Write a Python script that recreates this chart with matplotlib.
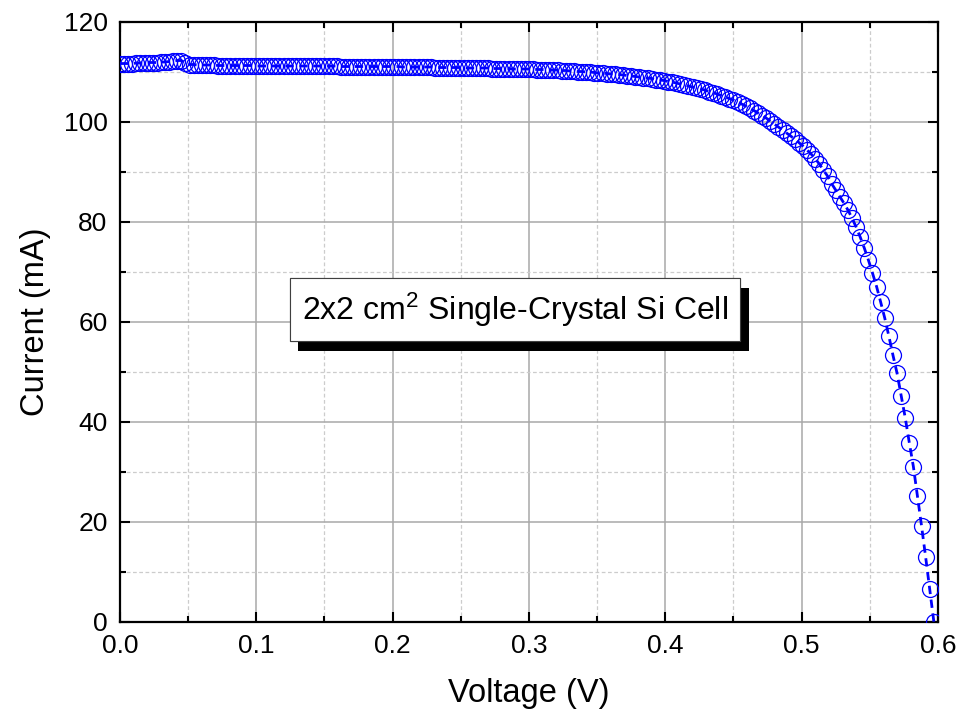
import numpy as np
import matplotlib.pyplot as plt
import matplotlib.patheffects as pe
from matplotlib.ticker import MultipleLocator

plt.rcParams['font.family'] = ['Liberation Sans', 'DejaVu Sans']
plt.rcParams['mathtext.fontset'] = 'custom'
plt.rcParams['mathtext.rm'] = 'Liberation Sans'
plt.rcParams['mathtext.it'] = 'Liberation Sans'

# Voltage sweep (V)
voltage = [
    0.000, 0.003, 0.006, 0.009, 0.012, 0.015, 0.018, 0.021, 0.024, 0.027,
    0.030, 0.033, 0.036, 0.039, 0.042, 0.045, 0.048, 0.051, 0.054, 0.057,
    0.060, 0.063, 0.066, 0.069, 0.072, 0.075, 0.078, 0.081, 0.084, 0.087,
    0.090, 0.093, 0.096, 0.099, 0.102, 0.105, 0.108, 0.111, 0.114, 0.117,
    0.120, 0.123, 0.126, 0.129, 0.132, 0.135, 0.138, 0.141, 0.144, 0.147,
    0.150, 0.153, 0.156, 0.159, 0.162, 0.165, 0.168, 0.171, 0.174, 0.177,
    0.180, 0.183, 0.186, 0.189, 0.192, 0.195, 0.198, 0.201, 0.204, 0.207,
    0.210, 0.213, 0.216, 0.219, 0.222, 0.225, 0.228, 0.231, 0.234, 0.237,
    0.240, 0.243, 0.246, 0.249, 0.252, 0.255, 0.258, 0.261, 0.264, 0.267,
    0.270, 0.273, 0.276, 0.279, 0.282, 0.285, 0.288, 0.291, 0.294, 0.297,
    0.300, 0.303, 0.306, 0.309, 0.312, 0.315, 0.318, 0.321, 0.324, 0.327,
    0.330, 0.333, 0.336, 0.339, 0.342, 0.345, 0.348, 0.351, 0.354, 0.357,
    0.360, 0.363, 0.366, 0.369, 0.372, 0.375, 0.378, 0.381, 0.384, 0.387,
    0.390, 0.393, 0.396, 0.399, 0.402, 0.405, 0.408, 0.411, 0.414, 0.417,
    0.420, 0.423, 0.426, 0.429, 0.432, 0.435, 0.438, 0.441, 0.444, 0.447,
    0.450, 0.453, 0.456, 0.459, 0.462, 0.465, 0.468, 0.471, 0.474, 0.477,
    0.480, 0.483, 0.486, 0.489, 0.492, 0.495, 0.498, 0.501, 0.504, 0.507,
    0.510, 0.513, 0.516, 0.519, 0.522, 0.525, 0.528, 0.531, 0.534, 0.537,
    0.540, 0.543, 0.546, 0.549, 0.552, 0.555, 0.558, 0.561, 0.564, 0.567,
    0.570, 0.573, 0.576, 0.579, 0.582, 0.585, 0.588, 0.591, 0.594, 0.597,
]

# Measured current (mA)
current = [
    111.6, 111.6, 111.6, 111.6, 111.7, 111.7, 111.7, 111.8, 111.8, 111.8,
    111.9, 111.9, 112.0, 112.1, 112.2, 112.2, 111.7, 111.4, 111.4, 111.3,
    111.3, 111.3, 111.3, 111.3, 111.2, 111.2, 111.2, 111.2, 111.2, 111.2,
    111.2, 111.2, 111.2, 111.1, 111.1, 111.1, 111.1, 111.1, 111.1, 111.1,
    111.1, 111.1, 111.1, 111.1, 111.1, 111.1, 111.1, 111.1, 111.1, 111.1,
    111.1, 111.1, 111.1, 111.1, 111.0, 111.0, 111.0, 111.0, 111.0, 111.0,
    111.0, 111.0, 111.0, 111.0, 111.0, 111.0, 111.0, 111.0, 111.0, 110.9,
    110.9, 110.9, 110.9, 110.9, 110.9, 110.9, 110.9, 110.8, 110.8, 110.8,
    110.8, 110.8, 110.8, 110.8, 110.8, 110.7, 110.7, 110.7, 110.7, 110.7,
    110.7, 110.6, 110.6, 110.6, 110.6, 110.6, 110.5, 110.5, 110.5, 110.5,
    110.5, 110.5, 110.4, 110.4, 110.4, 110.3, 110.3, 110.3, 110.2, 110.2,
    110.1, 110.1, 110.0, 110.0, 109.9, 109.9, 109.8, 109.7, 109.7, 109.6,
    109.5, 109.5, 109.4, 109.3, 109.2, 109.1, 109.0, 108.9, 108.8, 108.7,
    108.6, 108.4, 108.3, 108.2, 108.0, 107.9, 107.7, 107.5, 107.3, 107.1,
    106.9, 106.7, 106.5, 106.3, 106.0, 105.8, 105.5, 105.2, 104.9, 104.6,
    104.3, 103.9, 103.5, 103.1, 102.7, 102.2, 101.7, 101.2, 100.7, 100.1,
    99.5, 98.9, 98.3, 97.7, 97.1, 96.5, 95.8, 95.1, 94.3, 93.5,
    92.6, 91.5, 90.3, 89.1, 87.6, 86.3, 85.0, 83.7, 82.3, 80.7,
    78.9, 76.9, 74.7, 72.3, 69.7, 67.0, 63.9, 60.7, 57.1, 53.3,
    49.7, 45.2, 40.8, 35.8, 31.0, 25.1, 19.1, 12.9, 6.5, 0.0,
]

fig = plt.figure(figsize=(9.6, 7.17), dpi=100)
ax = fig.add_axes([0.125, 0.133, 0.852, 0.837])

# I-V curve: dashed line with open circles
ax.plot(voltage, current, color='#0000ff', linestyle=(0, (3, 2)), linewidth=2.0,
        marker='o', markersize=11.5, markerfacecolor='none',
        markeredgecolor='#0000ff', markeredgewidth=0.9, zorder=3)

ax.set_xlim(0, 0.6)
ax.set_ylim(0, 120)
ax.xaxis.set_major_locator(MultipleLocator(0.1))
ax.xaxis.set_minor_locator(MultipleLocator(0.05))
ax.yaxis.set_major_locator(MultipleLocator(20))
ax.yaxis.set_minor_locator(MultipleLocator(10))
ax.xaxis.set_major_formatter(plt.FormatStrFormatter('%.1f'))

ax.grid(which='major', color='#a8a8a8', linestyle='-', linewidth=1.1)
ax.grid(which='minor', color='#cccccc', linestyle=(0, (3, 2)), linewidth=0.9)
ax.set_axisbelow(True)

ax.tick_params(which='both', direction='in', top=True, right=True, width=1.5)
ax.tick_params(which='major', length=7, labelsize=19, pad=9)
ax.tick_params(which='minor', length=4)
for s in ax.spines.values():
    s.set_linewidth(1.6)

ax.set_xlabel('Voltage (V)', fontsize=23.5, labelpad=14)
ax.set_ylabel('Current (mA)', fontsize=23.5, labelpad=9)

# Label box with drop shadow
t = ax.text(0.29, 62.4, r'2x2 cm$^{\mathrm{2}}$ Single-Crystal Si Cell', fontsize=23,
            ha='center', va='center', zorder=5,
            bbox=dict(boxstyle='square,pad=0.38', facecolor='white',
                      edgecolor='#404040', linewidth=0.8))
t.get_bbox_patch().set_path_effects([
    pe.withSimplePatchShadow(offset=(6, -7), shadow_rgbFace='black', alpha=1.0),
    pe.Normal()])

plt.savefig('out.png', dpi=100)
